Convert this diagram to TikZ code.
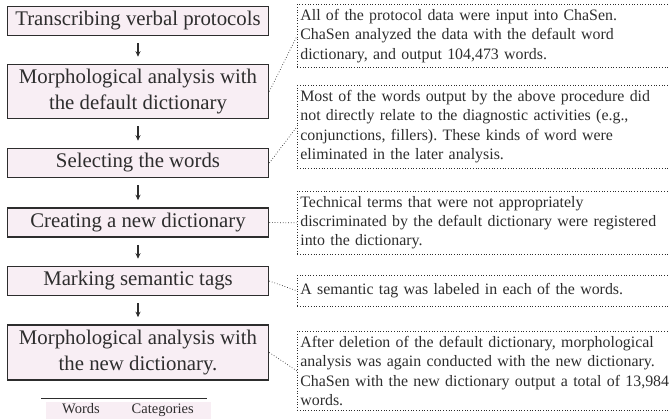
\documentclass[tikz,border=0pt]{standalone}
\usepackage{fontspec}
\setmainfont{Liberation Serif}
\usepackage{tikz}
\usetikzlibrary{arrows.meta}
\frenchspacing

\definecolor{boxpink}{RGB}{248,238,244}
\definecolor{inkgray}{RGB}{45,45,45}

\begin{document}
\begin{tikzpicture}[
    x=1pt, y=-1pt,
    stage/.style={draw=inkgray, line width=1.6pt, fill=boxpink, minimum width=261pt, minimum height=29pt, inner sep=2pt, align=center, text=inkgray, font=\fontsize{20.8}{26}\selectfont},
    note/.style={draw=inkgray, dotted, line width=0.7pt, anchor=north west, text width=385pt, inner xsep=3pt, inner ysep=5pt, align=left, text=inkgray, font=\fontsize{15.9}{19.3}\selectfont},
    flow/.style={-{Stealth[length=5.5pt,width=5pt]}, line width=1.2pt, inkgray, shorten <=7pt, shorten >=7pt},
    link/.style={dotted, line width=0.7pt, inkgray}
]
\useasboundingbox (0,0) rectangle (669,418);

\node[stage] (transcribe) at (138,21) {Transcribing verbal protocols};
\node[stage, minimum height=54pt] (morphdef) at (138,91.5) {Morphological analysis with\\the default dictionary};
\node[stage] (select) at (138,163) {Selecting the words};
\node[stage] (newdict) at (138,222.5) {Creating a new dictionary};
\node[stage] (semtag) at (138,281) {Marking semantic tags};
\node[stage, minimum height=55pt] (morphnew) at (138,352.5) {Morphological analysis with\\the new dictionary.};

\draw[flow] (transcribe) -- (morphdef);
\draw[flow] (morphdef) -- (select);
\draw[flow] (select) -- (newdict);
\draw[flow] (newdict) -- (semtag);
\draw[flow] (semtag) -- (morphnew);

\node[note] (input) at (297,4) {All of the protocol data were input into ChaSen.\\ChaSen analyzed the data with the default word\\dictionary, and output 104,473 words.};
\node[note] (elim) at (297,85) {Most of the words output by the above procedure did\\not directly relate to the diagnostic activities (e.g.,\\conjunctions, fillers). These kinds of word were\\eliminated in the later analysis.};
\node[note] (terms) at (297,191) {Technical terms that were not appropriately\\discriminated by the default dictionary were registered\\into the dictionary.};
\node[note, minimum height=31pt] (tagged) at (297,275) {A semantic tag was labeled in each of the words.};
\node[note] (rerun) at (297,331) {After deletion of the default dictionary, morphological\\analysis was again conducted with the new dictionary.\\ChaSen with the new dictionary output a total of 13,984\\words.};

\draw[link] (morphdef.east) -- (input.west);
\draw[link] (select.east) -- (elim.west);
\draw[link] (newdict.east) -- (terms.west);
\draw[link] (semtag.east) -- (tagged.west);
\draw[link] (morphnew.east) -- (rerun.west);

\node[font=\fontsize{14.5}{17}\selectfont, text=inkgray, fill=boxpink, minimum width=165pt, minimum height=17pt, inner sep=1pt] (legend) at (128,410) {Words\hspace{32pt}Categories};
\draw[line width=1pt, inkgray] ([shift={(-4pt,3pt)}]legend.north west) -- ([shift={(-4pt,3pt)}]legend.north east);
\end{tikzpicture}
\end{document}
